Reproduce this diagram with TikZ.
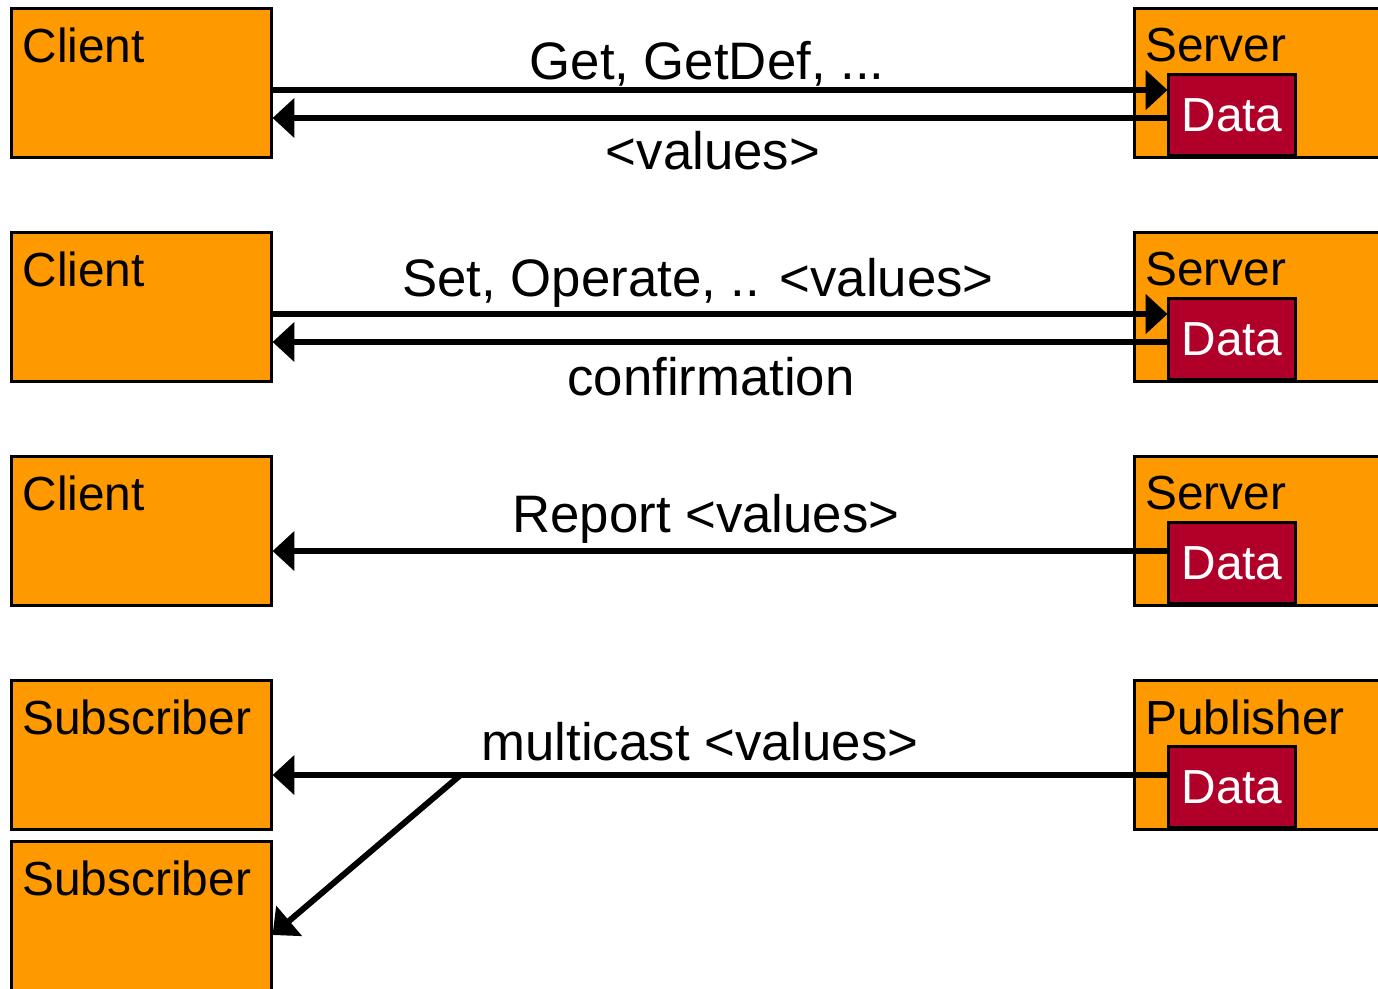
\documentclass[tikz,border=0pt]{standalone}
\usepackage{fontspec}
\setmainfont{Liberation Sans}
\usetikzlibrary{arrows.meta}
\definecolor{boxorange}{RGB}{255,153,0}
\definecolor{datared}{RGB}{176,0,42}

\begin{document}
\begin{tikzpicture}[x=0.01cm,y=-0.01cm,line width=0.85pt,
  party/.style={draw,fill=boxorange,minimum width=2.59cm,minimum height=1.48cm,inner sep=0pt},
  server/.style={party,minimum width=2.55cm},
  datastore/.style={draw,fill=datared,text=white,minimum width=1.26cm,minimum height=0.8cm,
    inner sep=0pt,font=\fontsize{13.6}{16}\selectfont},
  tag/.style={anchor=north west,inner xsep=3pt,inner ysep=5.4pt,font=\fontsize{13.6}{16}\selectfont},
  msg/.style={anchor=base,font=\fontsize{15}{18}\selectfont},
  sig/.style={line width=1.7pt,-{Triangle[length=6.2pt,width=11pt]}}]
  \clip (0,0) rectangle (1378,989);

  \foreach \i/\y/\cl/\sv in {1/83/Client/Server,2/307/Client/Server,
    3/531/Client/Server,4/755/Subscriber/Publisher}{
    \node[party,label={[tag]north west:\cl}] (c\i) at (141.5,\y) {};
    \node[server,label={[tag]north west:\sv}] (s\i) at (1262.5,\y) {};
    \node[datastore] (d\i) at (1232,\y+32) {Data};
  }
  \node[party,label={[tag]north west:Subscriber}] (c5) at (141.5,916) {};

  % request / response
  \draw[sig] ([yshift=-2pt]c1.east) -- ([yshift=-2pt]c1.east -| d1.west);
  \draw[sig] ([yshift=-0.85pt]d1.west) -- ([yshift=-0.85pt]d1.west -| c1.east);
  \draw[sig] ([yshift=-2pt]c2.east) -- ([yshift=-2pt]c2.east -| d2.west);
  \draw[sig] ([yshift=-0.85pt]d2.west) -- ([yshift=-0.85pt]d2.west -| c2.east);
  % report and multicast
  \draw[sig] ([yshift=-5.7pt]c3.east -| d3.west) -- ([yshift=-5.7pt]c3.east);
  \draw[sig] ([yshift=-5.7pt]c4.east -| d4.west) -- ([yshift=-5.7pt]c4.east)
    coordinate[pos=0.79] (fork);
  \draw[sig] (fork) -- ([yshift=-5.4pt]c5.east);

  \node[msg] (get) at (707,80) {Get, GetDef, ...};
  \node[msg] (val) at (713,170) {<values>};
  \node[msg] (set) at (698,297) {Set, Operate, .. <values>};
  \node[msg] (conf) at (711,396) {confirmation};
  \node[msg] (rep) at (706,533) {Report <values>};
  \node[msg] (mc) at (700,761) {multicast <values>};
\end{tikzpicture}
\end{document}
